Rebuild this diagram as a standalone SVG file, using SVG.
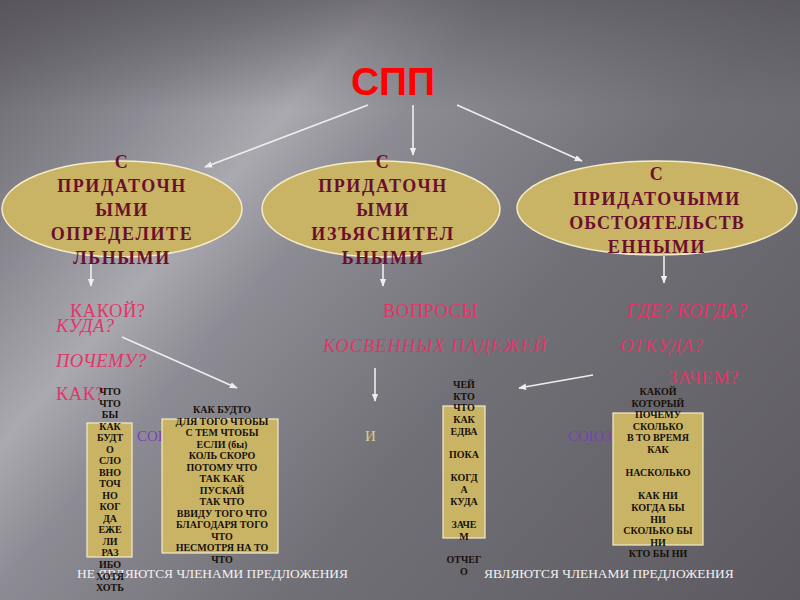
<svg xmlns="http://www.w3.org/2000/svg" width="800" height="600" viewBox="0 0 800 600">
<defs>
<linearGradient id="bg" gradientUnits="userSpaceOnUse" x1="0" y1="0" x2="760" y2="650">
<stop offset="0" stop-color="#66646a"/>
<stop offset="0.18" stop-color="#8c8a92"/>
<stop offset="0.29" stop-color="#aba9b0"/>
<stop offset="0.38" stop-color="#8d8b93"/>
<stop offset="0.6" stop-color="#727077"/>
<stop offset="1" stop-color="#5c5a60"/>
</linearGradient>
<linearGradient id="top" x1="0" y1="0" x2="0" y2="1">
<stop offset="0" stop-color="#4e4c52" stop-opacity="0.6"/>
<stop offset="1" stop-color="#4e4c52" stop-opacity="0"/>
</linearGradient>
<marker id="ah" viewBox="0 0 10 10" refX="9" refY="5" markerWidth="5" markerHeight="5" orient="auto-start-reverse">
<path d="M0,1 L10,5 L0,9 z" fill="#eeeeee"/>
</marker>
<style>
.ell{fill:#c9b466;stroke:#f3ecc8;stroke-width:1.5}
.et{font-family:"Liberation Serif",serif;font-weight:bold;font-size:18px;fill:#6a0f2c;text-anchor:middle;letter-spacing:1.6px}
.q{font-family:"Liberation Serif",serif;font-size:18.5px;fill:#e33467;letter-spacing:0.5px}
.qi{font-style:italic}
.box{fill:#c9b466;stroke:#f3ecc8;stroke-width:1.2}
.bt{font-family:"Liberation Serif",serif;font-weight:bold;font-size:10px;fill:#17110a;text-anchor:middle}
.ln{stroke:#eeeeee;stroke-width:1.6;fill:none;marker-end:url(#ah)}
.lbl{font-family:"Liberation Serif",serif;font-size:15px}
.bot{font-family:"Liberation Serif",serif;font-size:13.4px;fill:#f2f2f2}
</style>
</defs>
<rect width="800" height="600" fill="url(#bg)"/>
<rect width="800" height="110" fill="url(#top)"/>

<g id="title"><text x="393" y="95" font-family="Liberation Sans, Arial, sans-serif" font-weight="bold" font-size="39" fill="#ff0000" text-anchor="middle">СПП</text></g>

<g id="connectors">
<line class="ln" x1="368" y1="105" x2="205" y2="167"/>
<line class="ln" x1="413" y1="105" x2="413" y2="155"/>
<line class="ln" x1="457" y1="105" x2="582" y2="161"/>
<line class="ln" x1="91" y1="263" x2="91" y2="286"/>
<line class="ln" x1="383" y1="263" x2="383" y2="286"/>
<line class="ln" x1="664" y1="256" x2="664" y2="283"/>
<line class="ln" x1="122" y1="337" x2="237" y2="388"/>
<line class="ln" x1="375" y1="368" x2="375" y2="401"/>
<line class="ln" x1="593" y1="375" x2="519" y2="388"/>
</g>

<g id="node-opred">
<ellipse class="ell" cx="122" cy="209" rx="120" ry="48"/>
<text class="et" x="122" y="168">С</text>
<text class="et" x="122" y="192">ПРИДАТОЧН</text>
<text class="et" x="122" y="216">ЫМИ</text>
<text class="et" x="122" y="240">ОПРЕДЕЛИТЕ</text>
<text class="et" x="122" y="264">ЛЬНЫМИ</text>
</g>
<g id="node-izyasn">
<ellipse class="ell" cx="381" cy="209" rx="119" ry="48"/>
<text class="et" x="383" y="168">С</text>
<text class="et" x="383" y="192">ПРИДАТОЧН</text>
<text class="et" x="383" y="216">ЫМИ</text>
<text class="et" x="383" y="240">ИЗЪЯСНИТЕЛ</text>
<text class="et" x="383" y="264">ЬНЫМИ</text>
</g>
<g id="node-obst">
<ellipse class="ell" cx="657" cy="208" rx="140" ry="47"/>
<text class="et" x="657" y="180">С</text>
<text class="et" x="657" y="205">ПРИДАТОЧЫМИ</text>
<text class="et" x="657" y="229" style="letter-spacing:1px">ОБСТОЯТЕЛЬСТВ</text>
<text class="et" x="657" y="253">ЕННЫМИ</text>
</g>

<g id="questions">
<text class="q" x="70" y="317">КАКОЙ?</text>
<text class="q qi" x="56" y="332">КУДА?</text>
<text class="q qi" x="56" y="367">ПОЧЕМУ?</text>
<text class="q" x="56" y="400">КАК?</text>
<text class="q" x="383" y="317">ВОПРОСЫ</text>
<text class="q qi" x="323" y="352" textLength="224">КОСВЕННЫХ  ПАДЕЖЕЙ</text>
<text class="q qi" x="627" y="317">ГДЕ? КОГДА?</text>
<text class="q qi" x="620" y="352">ОТКУДА?</text>
<text class="q" x="668" y="384">ЗАЧЕМ?</text>
</g>

<g id="labels">
<text class="lbl" x="137" y="441" fill="#7b3fb5">СОЮ</text>
<text class="lbl" x="365" y="441" fill="#d8d080">И</text>
<text class="lbl" x="568" y="441" fill="#7b3fb5">СОЮЗН</text>
</g>

<g id="footer">
<text class="bot" x="77" y="578">НЕ ЯВЛЯЮТСЯ ЧЛЕНАМИ ПРЕДЛОЖЕНИЯ</text>
<text class="bot" x="484" y="578">ЯВЛЯЮТСЯ ЧЛЕНАМИ ПРЕДЛОЖЕНИЯ</text>
</g>

<g id="box-simple">
<rect class="box" x="87" y="423" width="45" height="134"/>
<text class="bt" x="110" y="395">ЧТО</text>
<text class="bt" x="110" y="406.5">ЧТО</text>
<text class="bt" x="110" y="418">БЫ</text>
<text class="bt" x="110" y="429.6">КАК</text>
<text class="bt" x="110" y="441.1">БУДТ</text>
<text class="bt" x="110" y="452.7">О</text>
<text class="bt" x="110" y="464.2">СЛО</text>
<text class="bt" x="110" y="475.7">ВНО</text>
<text class="bt" x="110" y="487.2">ТОЧ</text>
<text class="bt" x="110" y="498.8">НО</text>
<text class="bt" x="110" y="510.3">КОГ</text>
<text class="bt" x="110" y="521.8">ДА</text>
<text class="bt" x="110" y="533.4">ЕЖЕ</text>
<text class="bt" x="110" y="544.9">ЛИ</text>
<text class="bt" x="110" y="556.4">РАЗ</text>
<text class="bt" x="110" y="568">ИБО</text>
<text class="bt" x="110" y="579.5">ХОТЯ</text>
<text class="bt" x="110" y="591">ХОТЬ</text>
</g>

<g id="box-compound">
<rect class="box" x="162" y="419" width="116" height="134"/>
<text class="bt" x="222" y="413">КАК БУДТО</text>
<text class="bt" x="222" y="424.5">ДЛЯ ТОГО ЧТОБЫ</text>
<text class="bt" x="222" y="436">С ТЕМ ЧТОБЫ</text>
<text class="bt" x="222" y="447.5">ЕСЛИ (бы)</text>
<text class="bt" x="222" y="459">КОЛЬ СКОРО</text>
<text class="bt" x="222" y="470.5">ПОТОМУ ЧТО</text>
<text class="bt" x="222" y="482">ТАК КАК</text>
<text class="bt" x="222" y="493.5">ПУСКАЙ</text>
<text class="bt" x="222" y="505">ТАК ЧТО</text>
<text class="bt" x="222" y="516.5">ВВИДУ ТОГО ЧТО</text>
<text class="bt" x="222" y="528">БЛАГОДАРЯ ТОГО</text>
<text class="bt" x="222" y="539.5">ЧТО</text>
<text class="bt" x="222" y="551">НЕСМОТРЯ НА ТО</text>
<text class="bt" x="222" y="562.5">ЧТО</text>
</g>

<g id="box-words1">
<rect class="box" x="443" y="406" width="42" height="132"/>
<text class="bt" x="464" y="388">ЧЕЙ</text>
<text class="bt" x="464" y="399.7">КТО</text>
<text class="bt" x="464" y="411.3">ЧТО</text>
<text class="bt" x="464" y="423">КАК</text>
<text class="bt" x="464" y="434.6">ЕДВА</text>
<text class="bt" x="464" y="457.9">ПОКА</text>
<text class="bt" x="464" y="481.2">КОГД</text>
<text class="bt" x="464" y="492.9">А</text>
<text class="bt" x="464" y="504.5">КУДА</text>
<text class="bt" x="464" y="527.8">ЗАЧЕ</text>
<text class="bt" x="464" y="539.5">М</text>
<text class="bt" x="464" y="562.8">ОТЧЕГ</text>
<text class="bt" x="464" y="574.5">О</text>
</g>

<g id="box-words2">
<rect class="box" x="613" y="413" width="90" height="132"/>
<text class="bt" x="658" y="395">КАКОЙ</text>
<text class="bt" x="658" y="406.6">КОТОРЫЙ</text>
<text class="bt" x="658" y="418.2">ПОЧЕМУ</text>
<text class="bt" x="658" y="429.8">СКОЛЬКО</text>
<text class="bt" x="658" y="441.4">В ТО ВРЕМЯ</text>
<text class="bt" x="658" y="453">КАК</text>
<text class="bt" x="658" y="476.2">НАСКОЛЬКО</text>
<text class="bt" x="658" y="499.4">КАК НИ</text>
<text class="bt" x="658" y="511">КОГДА БЫ</text>
<text class="bt" x="658" y="522.6">НИ</text>
<text class="bt" x="658" y="534.2">СКОЛЬКО БЫ</text>
<text class="bt" x="658" y="545.8">НИ</text>
<text class="bt" x="658" y="557.4">КТО БЫ НИ</text>
</g>
</svg>
